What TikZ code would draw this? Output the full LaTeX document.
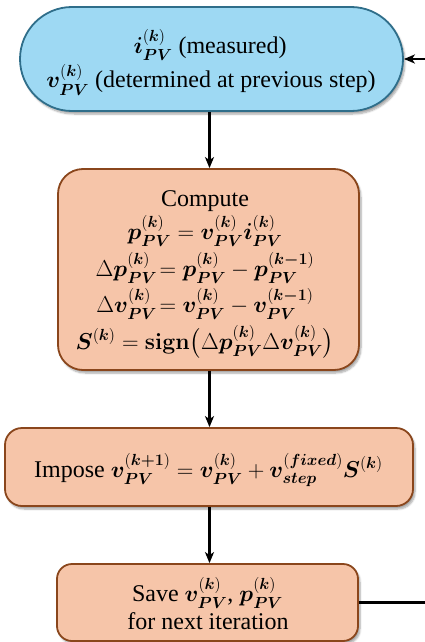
\RequirePackage{fix-cm}
\documentclass[tikz,border=0pt]{standalone}
\usepackage[no-math]{fontspec}
\setmainfont{Liberation Serif}
\usepackage{amsmath,bm}
\usetikzlibrary{shadows.blur,arrows.meta}

\definecolor{skyfill}{HTML}{9ED9F3}
\definecolor{skyline}{HTML}{2F6E8A}
\definecolor{peachfill}{HTML}{F6C5A9}
\definecolor{peachline}{HTML}{8A461C}

% formulas are set a little smaller than the surrounding words
\newcommand{\mth}[1]{{\fontsize{23}{27}\selectfont$#1$}}
% quantity with PV subscript and bold superscript
\newcommand{\qPV}[2]{\bm{#1}_{\bm{PV}}^{(\bm{#2})}}

\tikzset{
  box/.style={rectangle, inner sep=0pt, line width=1.8pt,
    blur shadow={shadow xshift=2pt, shadow yshift=-3pt, shadow blur steps=6, shadow opacity=35}},
  startbox/.style={box, draw=skyline, fill=skyfill},
  procbox/.style={box, draw=peachline, fill=peachfill},
  ln/.style={anchor=base, inner sep=0pt, font=\fontsize{24}{27}\selectfont},
  conn/.style={line width=2.4pt, -{Stealth[length=11pt,width=9pt,inset=3pt]}},
}

\begin{document}
\begin{tikzpicture}[x=1pt,y=-1pt]
\useasboundingbox (0,0) rectangle (425,642);
\clip (0,0) rectangle (425,642);

% flow axis and the return rail beyond the right margin
\coordinate (axis) at (209.5,0);
\coordinate (rim) at (445,0);

% boxes
\node[startbox, minimum width=383pt, minimum height=104pt, rounded corners=52pt]
  (top) at (211.5,59) {};
\node[procbox, minimum width=301pt, minimum height=201pt, rounded corners=25pt]
  (compute) at (208.5,269.5) {};
\node[procbox, minimum width=408pt, minimum height=78pt, rounded corners=17pt]
  (impose) at (209,467) {};
\node[procbox, minimum width=301pt, minimum height=77pt, rounded corners=15pt]
  (save) at (207.5,602.5) {};

% start box: inputs of the step
\node[ln] (top-l1) at (210,53) {\mth{\qPV{i}{k}} (measured)};
\node[ln] (top-l2) at (211,88) {\mth{\qPV{v}{k}} (determined at previous step)};

% computation box
\node[ln] (comp-l1) at (205,206) {Compute};
\node[ln] (comp-l2) at (205,239)
  {\mth{\qPV{p}{k} = \qPV{v}{k}\qPV{i}{k}}};
\node[ln] (comp-l3) at (205,276)
  {\mth{\Delta\qPV{p}{k}\!= \qPV{p}{k} - \qPV{p}{k-1}}};
\node[ln] (comp-l4) at (205,312)
  {\mth{\Delta\qPV{v}{k}\!= \qPV{v}{k} - \qPV{v}{k-1}}};
\node[ln] (comp-l5) at (205,349)
  {\mth{\bm{S}^{(\bm{k})} = \mathbf{sign}\bigl(\Delta\qPV{p}{k}\Delta\qPV{v}{k}\bigr)}};

% update box
\node[ln] (imp-l1) at (208.5,477)
  {Impose \mth{\qPV{v}{k+1} = \qPV{v}{k} + \bm{v}_{\bm{step}}^{(\bm{fixed})}\bm{S}^{(\bm{k})}}};

% storage box
\node[ln] (save-l1) at (207.5,601) {Save \mth{\qPV{v}{k}}, \mth{\qPV{p}{k}}};
\node[ln] (save-l2) at (208,629) {for next iteration};

% connectors
\draw[conn] (axis |- top.south) -- (axis |- compute.north);
\draw[conn] (axis |- compute.south) -- (axis |- impose.north);
\draw[conn] (axis |- impose.south) -- (axis |- save.north);
\draw[conn] (save.east) -- (save.east -| rim) |- (top.east);
\end{tikzpicture}
\end{document}
